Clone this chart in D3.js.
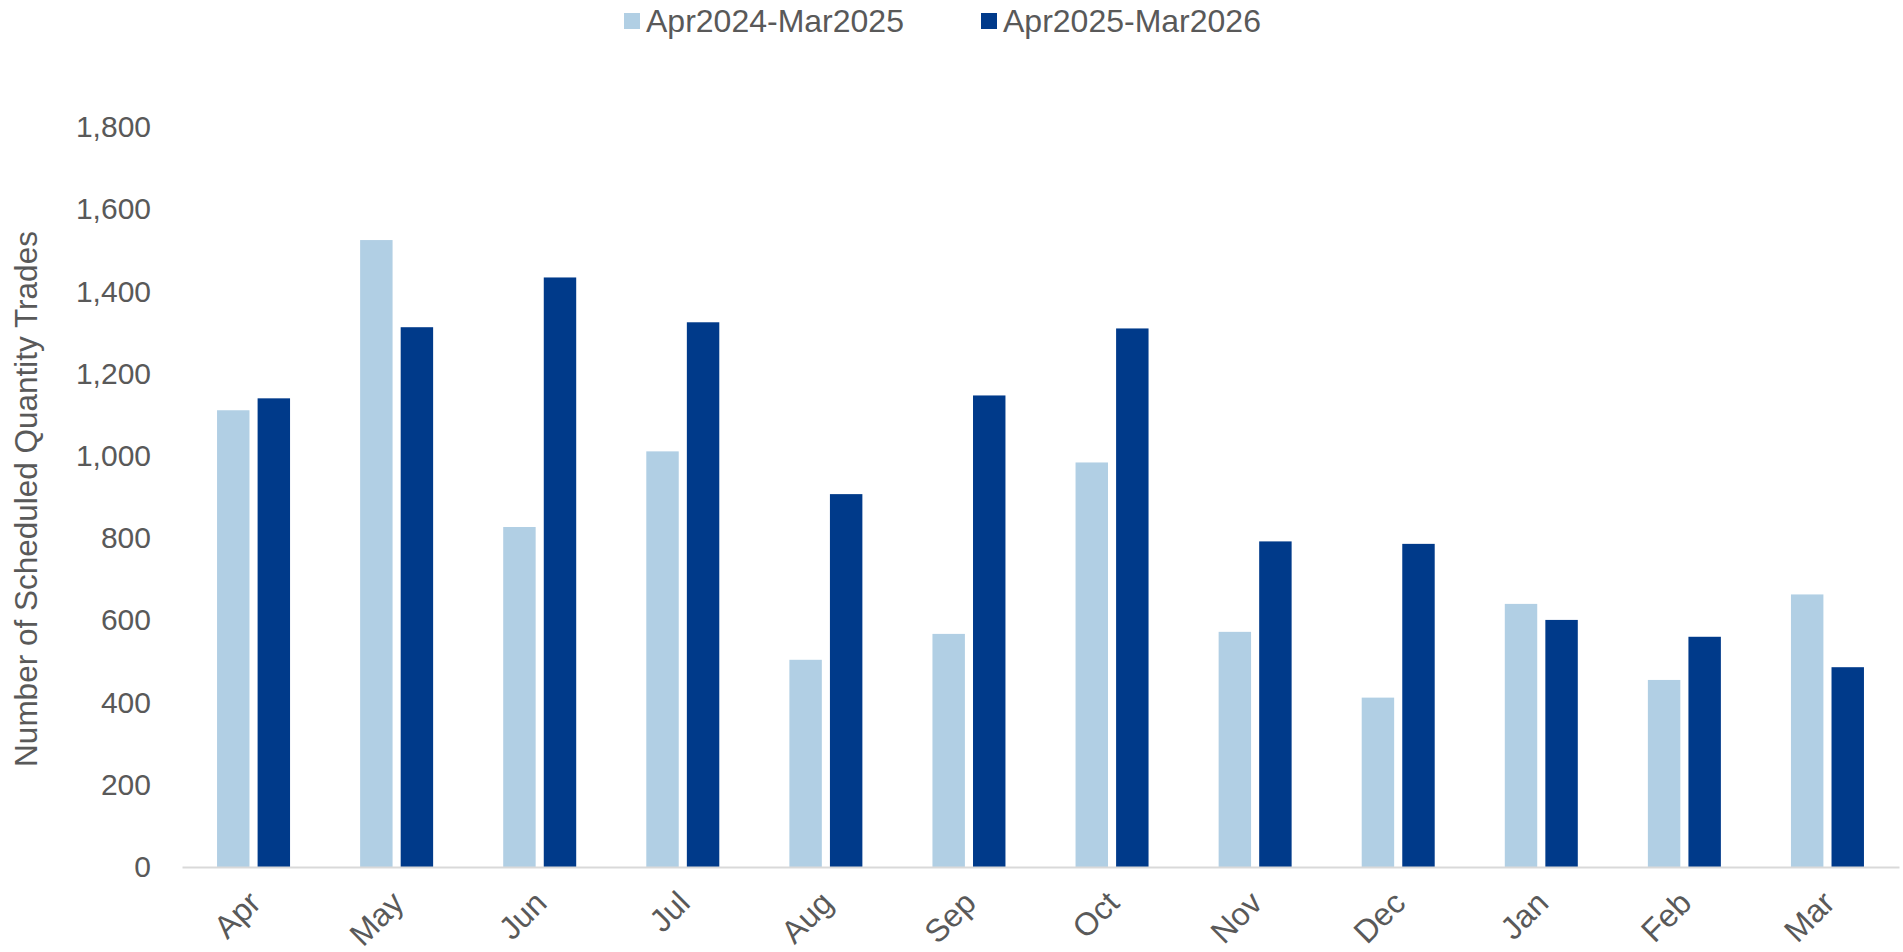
<!DOCTYPE html>
<html>
<head>
<meta charset="utf-8">
<script src="https://cdn.jsdelivr.net/npm/d3@7"></script>
<style>
    body { margin: 0; background: #fff; }
    svg { display: block; font-family: "Liberation Sans", Arial, sans-serif; }
</style>
</head>
<body>
<div id="chart"></div>
<script>
// Chart data
const months = ["Apr", "May", "Jun", "Jul", "Aug", "Sep", "Oct", "Nov", "Dec", "Jan", "Feb", "Mar"];
const seriesNames = ["Apr2024-Mar2025", "Apr2025-Mar2026"];
const values2024 = [1111, 1525, 827, 1011, 504, 567, 984, 572, 412, 640, 455, 663];
const values2025 = [1140, 1313, 1434, 1325, 907, 1147, 1310, 792, 786, 601, 560, 486];
const yTicks = [0, 200, 400, 600, 800, 1000, 1200, 1400, 1600, 1800];
const colors = ["#b1cfe4", "#003a8a"];

document.addEventListener("DOMContentLoaded", () => {
    const width = 1903;
    const height = 952;
    const margin = { top: 127, right: 4, bottom: 85, left: 182 };

    const svg = d3.select("#chart")
        .append("svg")
        .attr("width", width)
        .attr("height", height);

    // Scales
    const x0 = d3.scaleBand()
        .domain(months)
        .range([margin.left, width - margin.right])
        .padding(0);

    const groupWidth = 73;
    const x1 = d3.scaleBand()
        .domain(seriesNames)
        .range([(x0.bandwidth() - groupWidth) / 2, (x0.bandwidth() + groupWidth) / 2])
        .paddingInner(0.2);

    const y = d3.scaleLinear()
        .domain([0, 1800])
        .range([height - margin.bottom, margin.top]);

    // Build rows for the grouped bars
    const rows = months.map((m, i) => ({
        month: m,
        values: [
            { key: seriesNames[0], value: values2024[i], color: colors[0] },
            { key: seriesNames[1], value: values2025[i], color: colors[1] }
        ]
    }));

    // Bars
    svg.append("g")
        .selectAll("g")
        .data(rows)
        .enter()
        .append("g")
        .attr("transform", d => `translate(${x0(d.month)},0)`)
        .selectAll("rect")
        .data(d => d.values)
        .enter()
        .append("rect")
        .attr("x", d => x1(d.key))
        .attr("y", d => y(d.value))
        .attr("width", x1.bandwidth())
        .attr("height", d => y(0) - y(d.value))
        .attr("fill", d => d.color);

    // Y axis (labels only)
    const yAxis = svg.append("g")
        .attr("transform", `translate(${margin.left - 31},0)`)
        .call(d3.axisLeft(y).tickValues(yTicks).tickFormat(d3.format(",")).tickSize(0).tickPadding(0));
    yAxis.select(".domain").remove();
    yAxis.selectAll("text")
        .attr("fill", "#595959")
        .style("font-size", "30px")
        .style("font-family", "'Liberation Sans', Arial, sans-serif");

    // X axis line and rotated labels
    const xAxis = svg.append("g")
        .attr("transform", `translate(0,${y(0)})`)
        .call(d3.axisBottom(x0).tickSize(0).tickPadding(0));
    xAxis.select(".domain")
        .attr("stroke", "#d9d9d9")
        .attr("stroke-width", 2);
    xAxis.selectAll("text")
        .attr("fill", "#595959")
        .style("font-size", "32px")
        .style("font-family", "'Liberation Sans', Arial, sans-serif")
        .attr("text-anchor", "end")
        .attr("dy", null)
        .attr("y", 0)
        .attr("transform", "translate(9,38) rotate(-45)");

    // Y axis title
    svg.append("text")
        .attr("transform", `translate(37,${(231 + 767) / 2}) rotate(-90)`)
        .attr("text-anchor", "middle")
        .attr("fill", "#595959")
        .style("font-size", "31.5px")
        .text("Number of Scheduled Quantity Trades");

    // Legend
    const legendX = [624, 981];
    const legend = svg.append("g").attr("class", "legend");
    seriesNames.forEach((name, i) => {
        legend.append("rect")
            .attr("x", legendX[i])
            .attr("y", 13)
            .attr("width", 16)
            .attr("height", 16)
            .attr("fill", colors[i]);
        legend.append("text")
            .attr("x", legendX[i] + 22)
            .attr("y", 32)
            .attr("fill", "#595959")
            .style("font-size", "32px")
            .text(name);
    });
});
</script>
</body>
</html>
